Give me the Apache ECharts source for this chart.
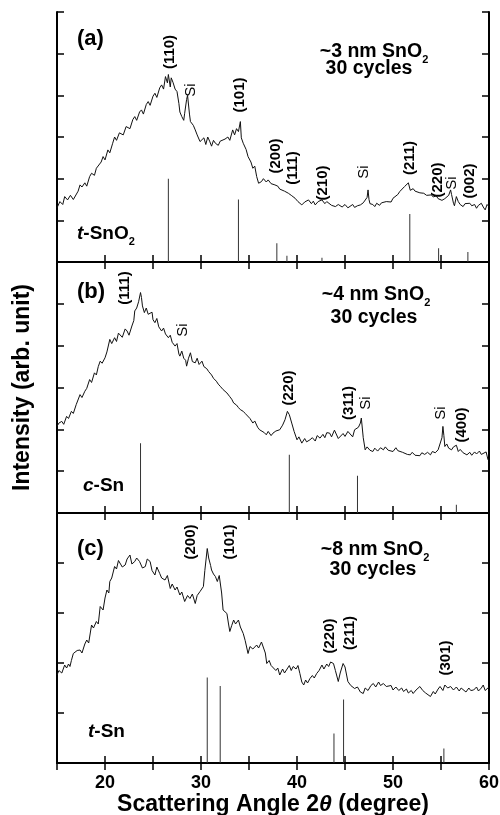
<!DOCTYPE html>
<html>
<head>
<meta charset="utf-8">
<script src="https://cdn.jsdelivr.net/npm/echarts@6/dist/echarts.min.js"></script>
<style>
    html, body { margin: 0; padding: 0; background: #fff; }
    #xrd { width: 500px; height: 815px; }
</style>
</head>
<body>
<div id="xrd"></div>
<script>
// measured XRD scans, [2theta, intensity]
let scanA = [
    [15.0,1.30],[15.3,1.45],[15.6,1.38],[15.8,1.57],[16.1,1.49],[16.4,1.60],[16.7,1.50],[16.9,1.54],[17.2,1.70],[17.4,1.85],
    [17.6,1.80],[17.9,1.90],[18.1,1.82],[18.4,2.05],[18.6,2.13],[18.9,2.08],[19.1,2.25],[19.3,2.29],[19.6,2.40],[19.8,2.53],
    [20.0,2.45],[20.3,2.69],[20.5,2.62],[20.8,2.85],[21.0,3.00],[21.2,2.92],[21.5,3.10],[21.7,3.13],[21.9,3.05],[22.2,3.25],
    [22.4,3.29],[22.6,3.20],[22.9,3.42],[23.1,3.49],[23.3,3.40],[23.6,3.60],[23.8,3.65],[24.0,3.55],[24.3,3.78],[24.5,3.85],
    [24.7,3.76],[25.0,3.98],[25.2,4.05],[25.4,3.95],[25.7,4.18],[25.9,4.25],[26.1,4.15],[26.3,4.45],[26.5,4.30],[26.6,4.50],
    [26.8,4.20],[26.9,4.42],[27.1,4.30],[27.3,4.15],[27.5,4.09],[27.7,3.80],[27.8,3.60],[28.0,3.49],[28.2,3.40],[28.3,3.57],
    [28.5,3.90],[28.6,4.00],[28.8,3.55],[28.9,3.37],[29.2,3.28],[29.4,3.17],[29.6,3.05],[29.9,2.89],[30.1,2.85],[30.3,2.98],
    [30.5,2.82],[30.7,3.00],[30.9,2.90],[31.1,2.78],[31.3,2.92],[31.5,2.85],[31.8,2.80],[32.0,2.90],[32.2,2.89],[32.5,2.95],
    [32.8,3.00],[33.0,2.92],[33.3,3.17],[33.5,3.05],[33.7,3.20],[33.9,3.13],[34.1,3.37],[34.2,2.98],[34.4,2.85],[34.7,2.70],
    [34.9,2.53],[35.2,2.40],[35.4,2.25],[35.6,2.30],[35.8,2.05],[36.0,1.89],[36.3,1.93],[36.5,2.00],[36.8,1.92],[37.0,1.97],
    [37.3,1.88],[37.5,1.92],[37.7,1.85],[38.0,1.82],[38.2,1.75],[38.4,1.77],[38.7,1.70],[38.9,1.72],[39.1,1.65],[39.4,1.60],
    [39.6,1.56],[39.8,1.53],[40.1,1.45],[40.3,1.48],[40.5,1.37],[40.8,1.44],[41.0,1.40],[41.2,1.49],[41.5,1.40],[41.7,1.46],
    [41.9,1.37],[42.2,1.45],[42.4,1.42],[42.6,1.49],[42.9,1.40],[43.1,1.45],[43.3,1.41],[43.6,1.36],[43.8,1.40],[44.0,1.33],
    [44.3,1.38],[44.5,1.37],[44.7,1.32],[45.0,1.38],[45.3,1.30],[45.5,1.33],[45.8,1.38],[46.0,1.31],[46.3,1.35],[46.6,1.37],
    [46.9,1.42],[47.1,1.45],[47.3,1.55],[47.4,1.73],[47.5,1.50],[47.6,1.40],[47.9,1.38],[48.1,1.33],[48.3,1.41],[48.6,1.36],
    [48.8,1.42],[49.0,1.38],[49.3,1.45],[49.5,1.48],[49.8,1.44],[50.0,1.53],[50.2,1.50],[50.5,1.62],[50.7,1.69],[50.9,1.66],
    [51.2,1.81],[51.4,1.78],[51.6,1.90],[51.8,1.72],[51.9,1.69],[52.1,1.76],[52.3,1.70],[52.5,1.73],[52.8,1.66],[53.0,1.69],
    [53.2,1.65],[53.5,1.60],[53.7,1.64],[54.0,1.61],[54.2,1.56],[54.5,1.59],[54.7,1.52],[54.9,1.53],[55.1,1.48],[55.4,1.52],
    [55.6,1.49],[55.8,1.60],[56.0,1.73],[56.1,1.62],[56.3,1.41],[56.4,1.35],[56.6,1.57],[56.8,1.45],[57.0,1.38],[57.3,1.33],
    [57.5,1.40],[57.7,1.36],[58.0,1.41],[58.2,1.35],[58.5,1.38],[58.7,1.29],[58.9,1.36],[59.2,1.41],[59.4,1.32],[59.6,1.25],
    [59.8,1.38],[60.0,1.33]
];
let scanB = [
    [15.0,2.07],[15.2,2.15],[15.5,2.19],[15.7,2.12],[16.0,2.31],[16.2,2.26],[16.5,2.43],[16.7,2.38],[17.0,2.59],[17.2,2.55],
    [17.4,2.83],[17.6,2.76],[17.9,2.91],[18.1,2.98],[18.4,3.19],[18.6,3.12],[18.9,3.35],[19.1,3.30],[19.3,3.50],[19.5,3.63],
    [19.7,3.58],[20.0,3.71],[20.2,3.85],[20.5,4.15],[20.7,4.05],[21.0,4.19],[21.2,4.10],[21.4,4.30],[21.6,4.27],[21.8,4.20],
    [22.1,4.40],[22.3,4.35],[22.5,4.25],[22.8,4.47],[23.0,4.60],[23.1,4.83],[23.3,4.90],[23.5,5.05],[23.7,5.27],[23.8,5.15],
    [23.9,4.95],[24.1,4.79],[24.3,4.90],[24.5,4.75],[24.7,4.71],[24.9,4.80],[25.0,4.62],[25.2,4.55],[25.4,4.65],[25.6,4.45],
    [25.9,4.35],[26.1,4.42],[26.3,4.28],[26.6,4.19],[26.8,4.25],[27.0,4.08],[27.3,3.99],[27.5,4.05],[27.7,3.80],[27.8,3.75],
    [28.0,3.87],[28.2,3.70],[28.4,3.65],[28.5,3.51],[28.7,3.70],[28.9,3.83],[29.1,3.62],[29.4,3.59],[29.6,3.70],[29.8,3.55],
    [30.1,3.63],[30.3,3.50],[30.6,3.45],[30.8,3.38],[31.1,3.30],[31.3,3.22],[31.6,3.15],[31.8,3.08],[32.0,3.03],[32.3,2.95],
    [32.5,2.98],[32.7,2.87],[33.0,2.78],[33.2,2.72],[33.4,2.63],[33.7,2.58],[33.9,2.52],[34.1,2.47],[34.4,2.43],[34.6,2.38],
    [34.8,2.35],[35.1,2.26],[35.4,2.15],[35.6,2.20],[35.9,2.05],[36.1,1.99],[36.3,2.03],[36.6,1.92],[36.8,1.87],[37.0,1.95],
    [37.3,1.85],[37.5,1.91],[37.8,1.96],[38.0,1.92],[38.2,1.99],[38.5,2.10],[38.75,2.23],[39.0,2.43],[39.2,2.35],[39.45,2.15],
    [39.7,1.95],[40.0,1.75],[40.2,1.82],[40.5,1.67],[40.8,1.78],[41.0,1.70],[41.35,1.75],[41.6,1.80],[41.9,1.72],[42.1,1.85],
    [42.4,1.79],[42.7,1.88],[42.9,1.80],[43.1,1.92],[43.4,1.91],[43.6,1.82],[43.9,1.98],[44.1,1.95],[44.3,1.78],[44.5,1.75],
    [44.8,1.90],[45.0,1.83],[45.3,1.95],[45.5,1.91],[45.8,1.82],[46.0,1.99],[46.2,1.99],[46.4,2.05],[46.6,2.15],[46.7,2.27],
    [46.9,1.80],[47.1,1.51],[47.3,1.58],[47.6,1.50],[47.9,1.47],[48.1,1.55],[48.4,1.48],[48.7,1.56],[49.0,1.51],[49.2,1.58],
    [49.5,1.50],[49.7,1.46],[50.0,1.47],[50.3,1.56],[50.5,1.49],[50.7,1.53],[51.0,1.45],[51.2,1.48],[51.5,1.40],[51.8,1.39],
    [52.0,1.45],[52.3,1.38],[52.5,1.42],[52.8,1.37],[53.0,1.44],[53.3,1.40],[53.6,1.45],[53.9,1.39],[54.1,1.47],[54.4,1.44],
    [54.7,1.51],[54.9,1.55],[55.1,1.80],[55.2,2.07],[55.3,1.85],[55.4,1.59],[55.6,1.65],[55.8,1.55],[56.1,1.51],[56.3,1.58],
    [56.6,1.62],[56.8,1.47],[57.0,1.52],[57.3,1.44],[57.5,1.40],[57.7,1.39],[58.0,1.45],[58.2,1.38],[58.5,1.46],[58.7,1.41],
    [59.0,1.48],[59.2,1.40],[59.4,1.43],[59.7,1.46],[59.9,1.27]
];
let scanC = [
    [15.0,1.76],[15.2,1.85],[15.5,1.80],[15.8,1.96],[16.0,1.90],[16.2,1.98],[16.35,1.93],[16.5,2.05],[16.7,2.19],[16.9,2.15],
    [17.1,2.25],[17.4,2.26],[17.6,2.20],[17.9,2.38],[18.1,2.46],[18.3,2.40],[18.6,2.76],[18.8,2.70],[19.1,2.83],[19.3,2.78],
    [19.5,3.13],[19.7,3.10],[19.8,3.06],[20.0,3.30],[20.2,3.46],[20.4,3.40],[20.5,3.63],[20.7,3.70],[21.0,3.93],[21.2,3.88],
    [21.4,4.05],[21.6,4.03],[21.8,3.92],[22.1,3.96],[22.3,4.08],[22.6,4.16],[22.8,3.98],[23.1,4.03],[23.3,4.10],[23.6,4.03],
    [23.9,3.90],[24.2,3.93],[24.4,4.08],[24.7,4.03],[24.9,3.85],[25.2,3.76],[25.4,3.92],[25.7,3.79],[25.9,3.70],[26.25,3.66],
    [26.5,3.75],[26.8,3.49],[27.0,3.58],[27.3,3.46],[27.5,3.52],[27.8,3.36],[28.0,3.42],[28.3,3.23],[28.6,3.35],[28.85,3.29],
    [29.1,3.38],[29.4,3.19],[29.6,3.35],[29.9,3.43],[30.1,3.45],[30.25,3.53],[30.4,3.85],[30.65,4.29],[30.8,4.10],[31.0,3.95],
    [31.1,3.86],[31.3,3.78],[31.5,3.73],[31.7,3.63],[31.9,3.75],[32.0,3.79],[32.15,3.40],[32.3,3.06],[32.5,3.10],[32.7,2.99],
    [32.85,2.80],[33.0,2.63],[33.2,2.75],[33.4,2.86],[33.6,2.78],[33.9,2.86],[34.1,2.72],[34.4,2.59],[34.6,2.45],[34.9,2.19],
    [35.1,2.33],[35.4,2.28],[35.8,2.36],[36.0,2.30],[36.3,2.42],[36.5,2.39],[36.7,2.20],[36.85,1.99],[37.1,2.05],[37.3,1.95],
    [37.5,1.93],[37.8,1.85],[38.0,1.90],[38.2,1.76],[38.5,1.88],[38.7,1.80],[38.9,1.86],[39.2,1.95],[39.4,1.85],[39.6,1.93],
    [39.9,1.88],[40.1,1.95],[40.3,1.79],[40.5,1.62],[40.7,1.56],[40.9,1.66],[41.1,1.60],[41.35,1.69],[41.6,1.75],[41.8,1.70],
    [42.05,1.79],[42.3,1.85],[42.6,1.96],[42.8,1.88],[43.1,1.98],[43.3,1.93],[43.5,2.02],[43.8,1.99],[44.0,1.85],[44.3,1.63],
    [44.5,1.80],[44.8,1.99],[45.0,1.92],[45.3,1.63],[45.6,1.55],[46.0,1.49],[46.3,1.52],[46.6,1.42],[46.9,1.39],[47.1,1.50],
    [47.4,1.45],[47.7,1.55],[47.95,1.59],[48.2,1.52],[48.5,1.62],[48.7,1.55],[49.0,1.59],[49.3,1.53],[49.5,1.49],[49.8,1.55],
    [50.0,1.46],[50.3,1.52],[50.6,1.45],[50.9,1.50],[51.1,1.43],[51.4,1.48],[51.6,1.40],[51.9,1.45],[52.1,1.39],[52.4,1.46],
    [52.6,1.42],[52.8,1.53],[53.1,1.45],[53.4,1.40],[53.6,1.36],[53.9,1.33],[54.2,1.43],[54.4,1.38],[54.7,1.48],[54.9,1.53],
    [55.2,1.45],[55.4,1.56],[55.7,1.50],[56.0,1.53],[56.3,1.46],[56.6,1.52],[56.9,1.44],[57.1,1.50],[57.3,1.49],[57.6,1.42],
    [57.9,1.50],[58.1,1.45],[58.4,1.46],[58.7,1.52],[58.9,1.44],[59.2,1.50],[59.4,1.56],[59.6,1.45],[59.8,1.49],[60.0,1.52]
];

// reference patterns (stick lines)
let sticksA = [[26.6,2.0],[33.9,1.5],[37.9,0.45],[38.95,0.15],[42.6,0.1],[51.75,1.15],[54.75,0.33],[57.8,0.24]];
let sticksB = [[23.7,1.67],[39.2,1.39],[46.3,0.89],[56.6,0.2]];
let sticksC = [[30.65,1.71],[32.0,1.54],[43.85,0.59],[44.85,1.27],[55.3,0.29]];

let yMax = [6, 6, 5];
let xTicks = ['20', '30', '40', '50', '60'];

let chart = echarts.init(document.getElementById('xrd'));

let font = 'Liberation Sans, Arial, sans-serif';
let grids = [
    {left: 57, right: 11, top: 12, height: 250, outerBoundsMode: 'none', containLabel: false},
    {left: 57, right: 11, top: 262, height: 251, outerBoundsMode: 'none', containLabel: false},
    {left: 57, right: 11, top: 513, height: 250, outerBoundsMode: 'none', containLabel: false}
];

let xAxes = [];
let yAxes = [];
grids.forEach(function (g, i) {
    ['bottom', 'top'].forEach(function (pos) {
        let last = (i === 2 && pos === 'bottom');
        xAxes.push({
            type: 'value', gridIndex: i, position: pos,
            min: 15, max: 60, interval: 5,
            axisLine: {lineStyle: {color: '#000', width: 2}},
            axisTick: {inside: true, length: 7, lineStyle: {color: '#000', width: 1.5}},
            splitLine: {show: false},
            axisLabel: {
                show: last, margin: 11, color: '#000',
                fontFamily: font, fontWeight: 'bold', fontSize: 18,
                formatter: function (v) { return xTicks.indexOf(String(v)) >= 0 ? String(v) : ''; }
            },
            name: last ? 'Scattering Angle 2{i|θ} (degree)' : '',
            nameLocation: 'middle', nameGap: 30,
            nameTextStyle: {
                color: '#000', fontFamily: font, fontWeight: 'bold', fontSize: 23,
                rich: {i: {fontStyle: 'italic', fontWeight: 'bold', fontSize: 23, fontFamily: font, color: '#000'}}
            }
        });
    });
    ['left', 'right'].forEach(function (pos) {
        let mid = (i === 1 && pos === 'left');
        yAxes.push({
            type: 'value', gridIndex: i, position: pos,
            min: 0, max: yMax[i], interval: 1,
            axisLine: {show: true, lineStyle: {color: '#000', width: 2}},
            axisTick: {show: true, inside: true, length: 7, lineStyle: {color: '#000', width: 1.5}},
            axisLabel: {show: false},
            splitLine: {show: false},
            name: mid ? 'Intensity (arb. unit)' : '',
            nameLocation: 'middle', nameGap: 23, nameRotate: 90,
            nameTextStyle: {color: '#000', fontFamily: font, fontWeight: 'bold', fontSize: 23}
        });
    });
});

let scans = [scanA, scanB, scanC];
let sticks = [sticksA, sticksB, sticksC];
let series = [];
scans.forEach(function (d, i) {
    series.push({
        type: 'line', xAxisIndex: 2 * i, yAxisIndex: 2 * i,
        data: d, showSymbol: false, symbol: 'none',
        lineStyle: {color: '#111', width: 1}
    });
    series.push({
        type: 'bar', xAxisIndex: 2 * i, yAxisIndex: 2 * i,
        data: sticks[i], barWidth: 1,
        itemStyle: {color: '#333'}
    });
});

// peak labels, rotated
function peak(x, y, t, bold) {
    return {
        type: 'text', x: x, y: y, rotation: Math.PI / 2,
        style: {
            text: t, fill: '#000', font: (bold ? 'bold ' : '') + '15px ' + font,
            align: 'center', verticalAlign: 'middle'
        }
    };
}
function plain(x, y, t, size, align) {
    return {
        type: 'text', x: x, y: y,
        style: {
            text: t, fill: '#000', fontFamily: font, fontWeight: 'bold', fontSize: size,
            align: align, verticalAlign: 'middle',
            rich: {
                s: {fontFamily: font, fontWeight: 'bold', fontSize: 11, padding: [16, 0, 0, 0]},
                it: {fontFamily: font, fontWeight: 'bold', fontStyle: 'italic', fontSize: size}
            }
        }
    };
}

let labels = [
    peak(170, 52, '(110)', true), peak(191, 90, 'Si', false), peak(240, 95, '(101)', true),
    peak(276, 156, '(200)', true), peak(293, 168, '(111)', true), peak(323, 183, '(210)', true),
    peak(364, 172, 'Si', false), peak(410, 158, '(211)', true), peak(438, 180, '(220)', true),
    peak(452, 183, 'Si', false), peak(470, 181, '(002)', true),
    peak(125, 288, '(111)', true), peak(183, 330, 'Si', false), peak(289, 388, '(220)', true),
    peak(349, 403, '(311)', true), peak(366, 403, 'Si', false), peak(441, 413, 'Si', false),
    peak(462, 425, '(400)', true),
    peak(191, 542, '(200)', true), peak(230, 542, '(101)', true), peak(330, 636, '(220)', true),
    peak(350, 633, '(211)', true), peak(446, 658, '(301)', true),
    plain(77, 39, '(a)', 22, 'left'), plain(77, 292, '(b)', 22, 'left'), plain(77, 549, '(c)', 22, 'left'),
    plain(77, 234, '{it|t}-SnO{s|2}', 19, 'left'), plain(83, 486, '{it|c}-Sn', 19, 'left'),
    plain(88, 732, '{it|t}-Sn', 19, 'left'),
    plain(374, 52, '~3 nm SnO{s|2}', 19.5, 'center'), plain(369, 69, '30 cycles', 19.5, 'center'),
    plain(376, 295, '~4 nm SnO{s|2}', 19.5, 'center'), plain(374, 318, '30 cycles', 19.5, 'center'),
    plain(375, 550, '~8 nm SnO{s|2}', 19.5, 'center'), plain(373, 570, '30 cycles', 19.5, 'center')
];

option = {
    animation: false,
    backgroundColor: '#fff',
    grid: grids,
    xAxis: xAxes,
    yAxis: yAxes,
    series: series,
    graphic: labels
};

chart.setOption(option);
</script>
</body>
</html>
